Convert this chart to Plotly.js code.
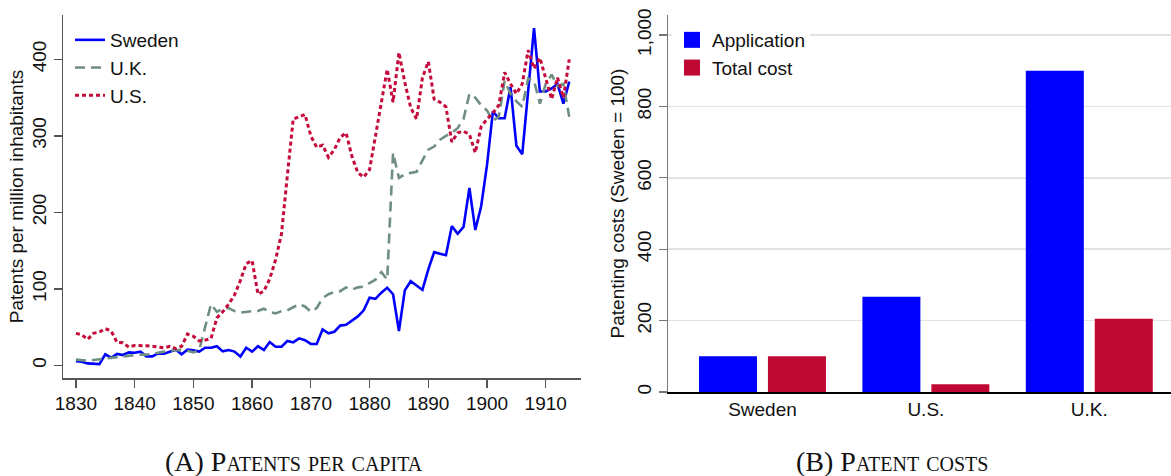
<!DOCTYPE html>
<html>
<head>
<meta charset="utf-8">
<script src="https://cdn.plot.ly/plotly-3.0.1.min.js"></script>
<style>html,body{margin:0;padding:0;background:#fff;}#chart{width:1171px;height:476px;}</style>
</head>
<body>
<div id="chart"></div>
<script>
// ---- Panel A: patents per million inhabitants ----
var years = [1830,1831,1832,1833,1834,1835,1836,1837,1838,1839,
             1840,1841,1842,1843,1844,1845,1846,1847,1848,1849,
             1850,1851,1852,1853,1854,1855,1856,1857,1858,1859,
             1860,1861,1862,1863,1864,1865,1866,1867,1868,1869,
             1870,1871,1872,1873,1874,1875,1876,1877,1878,1879,
             1880,1881,1882,1883,1884,1885,1886,1887,1888,1889,
             1890,1891,1892,1893,1894,1895,1896,1897,1898,1899,
             1900,1901,1902,1903,1904,1905,1906,1907,1908,1909,
             1910,1911,1912,1913,1914];

var sweden = [5.6,4.8,2.6,2.2,1.7,14.4,10,15,13.5,17,
              16.5,18,11.8,11.8,15.7,15.2,17.4,20.5,14.5,20.5,
              19.6,18,23,23,25,18.3,20,18,11.5,23,
              18,25,20,30.5,24.4,24.4,31.8,30,35.3,33,
              28,28,47,42,44,52,53,58.8,64,72,
              88.5,87,95,101.5,93,45,98,110,104,98.6,
              125.5,148,146,144,182,172,181,232,177,208,
              262,332,323,323,364,287,276,360,441,358,
              358,362,368,342,371];

var uk = [7.5,6.5,6,7,8,9,10,10.5,12,13,
          13.5,14,14,15,17,18,19,20,20,19,
          17,20,50,80,70,74,75,71,69,70,
          71,71,74,70,68,71,72,76,80,77,
          70,75,88,93,96,97,102,99,102,103,
          107,112,122,112,278,245,250,252,253,268,
          282,286,295,300,304,310,322,355,350,340,
          333,320,325,372,355,345,338,375,372,342,
          368,380,365,368,325];

var us = [41.8,40,34,42,43.6,48,45,30,29.6,24,
          26,26,25.6,25,24,23,25,22,25,41,
          38,32,33,35,62,70,80,92,111,133,
          137,93,97,113,138,172,248,322,325,328,
          300,285,288,272,282,298,304,273,252,246,
          256,300,345,387,344,409,370,337,322,376,
          397,348,344,338,292,304,306,302,278,312,
          322,330,340,383,368,355,368,412,388,402,
          375,348,376,350,400];

var yearTicks = [1830,1840,1850,1860,1870,1880,1890,1900,1910];
var perCapitaTicks = [0,100,200,300,400];

// ---- Panel B: patent costs (Sweden = 100) ----
var countries = ["Sweden","U.S.","U.K."];
var applicationCost = [100,267,900];
var totalCost = [100,22,205];
var costTicks = [0,200,400,600,800,1000];

var BLUE = "#0000FF", GREY = "#6F8F83", RED = "#C5093B", BAR_RED = "#C00834";
var SANS = "Liberation Sans, Arial, sans-serif";
var SERIF = "Liberation Serif, Times New Roman, serif";

var traces = [
  {x: years, y: sweden, name: "Sweden", type: "scatter", mode: "lines",
   line: {color: BLUE, width: 2.6}, xaxis: "x", yaxis: "y", legend: "legend"},
  {x: years, y: uk, name: "U.K.", type: "scatter", mode: "lines",
   line: {color: GREY, width: 2.6, dash: "10px,6px"}, xaxis: "x", yaxis: "y", legend: "legend"},
  {x: years, y: us, name: "U.S.", type: "scatter", mode: "lines",
   line: {color: RED, width: 3, dash: "4px,3px"}, xaxis: "x", yaxis: "y", legend: "legend"},
  {x: countries, y: applicationCost, name: "Application", type: "bar", showlegend: false,
   marker: {color: BLUE}, xaxis: "x2", yaxis: "y2"},
  {x: countries, y: totalCost, name: "Total cost", type: "bar", showlegend: false,
   marker: {color: BAR_RED}, xaxis: "x2", yaxis: "y2"},
  // legend keys for the bar series (larger square swatches)
  {x: [null], y: [null], name: "Application", type: "scatter", mode: "markers",
   marker: {color: BLUE, symbol: "square", size: 18}, xaxis: "x2", yaxis: "y2",
   legend: "legend2", hoverinfo: "skip"},
  {x: [null], y: [null], name: "Total cost", type: "scatter", mode: "markers",
   marker: {color: BAR_RED, symbol: "square", size: 18}, xaxis: "x2", yaxis: "y2",
   legend: "legend2", hoverinfo: "skip"}
];

var W = 1171, H = 476;
function px(v){ return v / W; }
function py(v){ return 1 - v / H; }

var layout = {
  width: W, height: H,
  margin: {l: 0, r: 0, t: 0, b: 0},
  paper_bgcolor: "#ffffff", plot_bgcolor: "#ffffff",
  font: {family: SANS, size: 19, color: "#111"},
  showlegend: true,
  barmode: "group", bargap: 0.156, bargroupgap: 0.159,
  xaxis: {
    domain: [px(63), px(581)], range: [1827.8, 1916],
    tickvals: yearTicks, ticks: "outside", ticklen: 8, tickwidth: 1.3, tickcolor: "#555",
    showline: true, linecolor: "#555", linewidth: 1.5,
    showgrid: false, zeroline: false, tickfont: {size: 19, family: SANS, color: "#111"},
    anchor: "y", automargin: false
  },
  yaxis: {
    domain: [py(378), py(15)], range: [-16.5, 458],
    tickvals: perCapitaTicks, tickangle: -90, ticks: "outside", ticklen: 8, tickwidth: 1.3, tickcolor: "#555",
    showline: true, linecolor: "#555", linewidth: 1.5,
    showgrid: false, zeroline: false, tickfont: {size: 19, family: SANS, color: "#111"},
    title: {text: "Patents per million inhabitants", font: {size: 19, family: SANS, color: "#111"}, standoff: 0},
    anchor: "x", automargin: false
  },
  xaxis2: {
    domain: [px(668), 1], type: "category", range: [-0.578, 2.5],
    showline: true, linecolor: "#000", linewidth: 1.5, ticks: "",
    showgrid: false, zeroline: false, tickfont: {size: 19, family: SANS, color: "#111"},
    anchor: "y2", automargin: false
  },
  yaxis2: {
    domain: [py(392), py(15)], range: [0, 1056],
    tickvals: costTicks, tickformat: ",", tickangle: -90,
    ticks: "outside", ticklen: 8, tickwidth: 1.3, tickcolor: "#777",
    showline: true, linecolor: "#777", linewidth: 1.5,
    showgrid: true, gridcolor: "#e3e3e3", gridwidth: 1.5, zeroline: false,
    tickfont: {size: 19, family: SANS, color: "#111"},
    title: {text: "Patenting costs (Sweden = 100)", font: {size: 19, family: SANS, color: "#111"}, standoff: 4},
    anchor: "x2", automargin: false
  },
  legend: {
    x: px(70), y: py(21), xanchor: "left", yanchor: "top",
    bgcolor: "rgba(255,255,255,0)", borderwidth: 0,
    font: {size: 19, family: SANS, color: "#111"}, tracegroupgap: 0
  },
  legend2: {
    x: px(672), y: py(21), xanchor: "left", yanchor: "top",
    bgcolor: "#ffffff", borderwidth: 0, itemsizing: "trace",
    font: {size: 19, family: SANS, color: "#111"}, tracegroupgap: 0
  },
  annotations: [
    {text: "(A) Patents per capita", xref: "paper", yref: "paper", x: px(294), y: py(461),
     xanchor: "center", yanchor: "middle", showarrow: false,
     font: {family: SERIF, size: 28, color: "#111", variant: "small-caps"}},
    {text: "(B) Patent costs", xref: "paper", yref: "paper", x: px(892), y: py(461),
     xanchor: "center", yanchor: "middle", showarrow: false,
     font: {family: SERIF, size: 28, color: "#111", variant: "small-caps"}}
  ]
};

Plotly.newPlot("chart", traces, layout, {displayModeBar: false, staticPlot: true});
</script>
</body>
</html>
